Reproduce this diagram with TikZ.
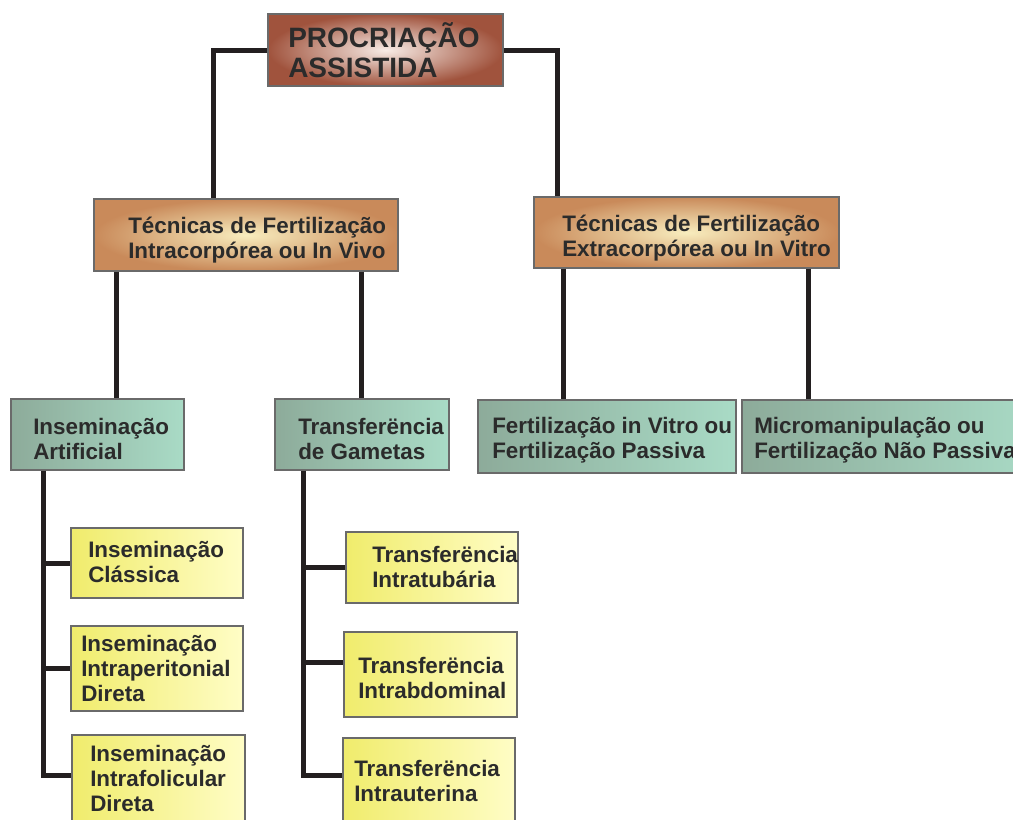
\documentclass[tikz,border=0pt]{standalone}
\usepackage{fontspec}
\setmainfont{Liberation Sans}
\usetikzlibrary{fit}
\definecolor{lnc}{HTML}{231F20}
\definecolor{bordc}{HTML}{6A6A6A}
\definecolor{txtc}{HTML}{2B2B2B}
\definecolor{topin}{HTML}{F8ECE6}
\definecolor{topout}{HTML}{A0533D}
\definecolor{midin}{HTML}{F8EDBE}
\definecolor{midout}{HTML}{C98A5A}
\definecolor{grnl}{HTML}{8DAB9A}
\definecolor{grnr}{HTML}{A9DBC6}
\definecolor{ylwl}{HTML}{F0EC6C}
\definecolor{ylwr}{HTML}{FFFDC6}
\begin{document}
\begin{tikzpicture}[x=0.75pt,y=-0.75pt,
  box/.style={draw=bordc, line width=1.1pt, inner sep=0pt},
  topbox/.style={box, inner color=topin, outer color=topout},
  midbox/.style={box, inner color=midin, outer color=midout},
  grnbox/.style={box, left color=grnl, right color=grnr},
  ylwbox/.style={box, left color=ylwl, right color=ylwr},
  txt/.style={anchor=west, inner sep=0pt, align=left, text=txtc, font=\fontsize{16.8pt}{18.75pt}\selectfont\bfseries},
  bigtxt/.style={txt, font=\fontsize{21pt}{22.5pt}\selectfont\bfseries},
  conn/.style={draw=lnc, line width=3.75pt}
]
\useasboundingbox (0,0) rectangle (1013,819);
\clip (0,0) rectangle (1013,819);
\fill[white] (0,0) rectangle (1013,819);

% level 1
\node[topbox, fit={(268,14) (503,86)}] (top) {};
\node[bigtxt] (ttop) at (288,50) {PROCRIAÇÃO\\ASSISTIDA};

% level 2
\node[midbox, fit={(94,199) (398,271)}] (intra) {};
\node[txt] (tintra) at (128,240) {Técnicas de Fertilização\\Intracorpórea ou In Vivo};
\node[midbox, fit={(534,197) (839,268)}] (extra) {};
\node[txt] (textra) at (562,238) {Técnicas de Fertilização\\Extracorpórea ou In Vitro};

% level 3
\node[grnbox, fit={(11,399) (184,470)}] (ia) {};
\node[txt] (tia) at (33,439) {Inseminação\\Artificial};
\node[grnbox, fit={(275,399) (449,470)}] (tg) {};
\node[txt] (ttg) at (298,439) {Transferëncia\\de Gametas};
\node[grnbox, fit={(478,400) (736,473)}] (fiv) {};
\node[txt] (tfiv) at (492,440) {Fertilização in Vitro ou\\Fertilização Passiva};
\node[grnbox, fit={(742,400) (1040,473)}] (micro) {};
\node[txt] (tmicro) at (754,440) {Micromanipulação ou\\Fertilização Não Passiva};

% level 4 left
\node[ylwbox, fit={(71,528) (243,598)}] (ic) {};
\node[txt] (tic) at (88,562) {Inseminação\\Clássica};
\node[ylwbox, fit={(71,626) (243,711)}] (iid) {};
\node[txt] (tiid) at (81,668) {Inseminação\\Intraperitonial\\Direta};
\node[ylwbox, fit={(72,735) (245,840)}] (ifd) {};
\node[txt] (tifd) at (90,778) {Inseminação\\Intrafolicular\\Direta};

% level 4 right
\node[ylwbox, fit={(346,532) (518,603)}] (tit) {};
\node[txt] (ttit) at (372,567) {Transferëncia\\Intratubária};
\node[ylwbox, fit={(344,632) (517,717)}] (tab) {};
\node[txt] (ttab) at (358,678) {Transferëncia\\Intrabdominal};
\node[ylwbox, fit={(343,738) (515,840)}] (tiu) {};
\node[txt] (ttiu) at (354,781) {Transferëncia\\Intrauterina};

% connectors
\coordinate (j1) at (213,50);
\coordinate (j2) at (557,50);
\draw[conn] (top.west) -- (j1) -- (j1 |- intra.north);
\draw[conn] (top.east) -- (j2) -- (j2 |- extra.north);

\coordinate (c1) at (116,0);
\coordinate (c2) at (361,0);
\coordinate (c3) at (563,0);
\coordinate (c4) at (808,0);
\draw[conn] (c1 |- intra.south) -- (c1 |- ia.north);
\draw[conn] (c2 |- intra.south) -- (c2 |- tg.north);
\draw[conn] (c3 |- extra.south) -- (c3 |- fiv.north);
\draw[conn] (c4 |- extra.south) -- (c4 |- micro.north);

\coordinate (v1) at (43,775);
\draw[conn] (v1 |- ia.south) -- (v1) -- (v1 -| ifd.west);
\draw[conn] (ic.west -| v1) -- (ic.west);
\draw[conn] (iid.west -| v1) -- (iid.west);

\coordinate (v2) at (303,775);
\coordinate (b2) at (0,662);
\draw[conn] (v2 |- tg.south) -- (v2) -- (v2 -| tiu.west);
\draw[conn] (tit.west -| v2) -- (tit.west);
\draw[conn] (v2 |- b2) -- (b2 -| tab.west);
\end{tikzpicture}
\end{document}
